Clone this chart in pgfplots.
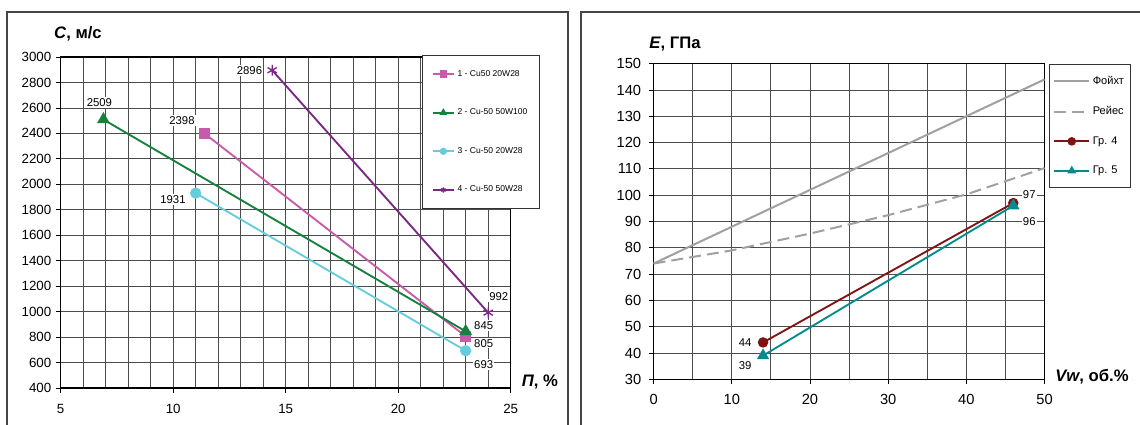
\documentclass[border=0pt]{standalone}
\usepackage{fontspec}
\setmainfont{Liberation Sans}
\usepackage{pgfplots}
\pgfplotsset{compat=1.18}
\definecolor{cA}{RGB}{200,90,170}
\definecolor{cB}{RGB}{20,130,60}
\definecolor{cC}{RGB}{102,204,221}
\definecolor{cD}{RGB}{122,40,130}
\definecolor{cR}{RGB}{128,20,20}
\definecolor{cT}{RGB}{0,140,140}
\definecolor{cG}{RGB}{160,160,160}
\definecolor{frameC}{RGB}{70,70,70}
\begin{document}
\begin{tikzpicture}
\useasboundingbox (0,0) rectangle (855pt,318.75pt);
\begin{scope}
\clip (0,0) rectangle (855pt,318.75pt);
\draw[frameC, line width=1pt] (5.25pt,-10pt) rectangle (426pt,309.75pt);
\draw[frameC, line width=1pt] (435.75pt,-10pt) rectangle (880pt,309.75pt);
\end{scope}
% ---------------- left chart ----------------
\begin{axis}[
  at={(45.5pt,27.75pt)}, anchor=south west, scale only axis,
  width=337.5pt, height=248.25pt,
  xmin=5, xmax=25, ymin=400, ymax=3000,
  xtick={5,10,15,20,25},
  minor xtick={6,7,8,9,11,12,13,14,16,17,18,19,21,22,23,24},
  ytick={400,600,...,3000},
  grid=both,
  grid style={black!70, line width=0.6pt},
  minor grid style={black!70, line width=0.6pt},
  tick pos=left, tick align=outside,
  major tick length=3.5pt, minor tick length=0pt,
  tick style={black, line width=0.6pt},
  axis line style={black, line width=0.8pt},
  ticklabel style={font=\fontsize{10}{12}\selectfont},
  xticklabel style={yshift=-5pt},
  /pgf/number format/1000 sep={},
  /pgf/number format/assume math mode=true,
  clip=false,
  legend cell align=left,
  legend style={at={(0.803,1.006)}, anchor=north west, draw=black!80, line width=0.6pt, fill=white,
    font=\fontsize{6.4}{7.5}\selectfont, row sep=19pt, inner xsep=7pt, inner ysep=9pt},
  legend image code/.code={\draw[mark repeat=2,mark phase=2,#1,mark size=2pt] plot coordinates {(0pt,0pt)(8pt,0pt)(16pt,0pt)};},
]
\addplot[cA, line width=1.4pt, mark=square*, mark size=3.5pt, mark options={solid, fill=cA}] coordinates {(11.4,2398) (23,805)};
\addlegendentry{1 - Cu50 20W28}
\addplot[cB, line width=1.4pt, mark=triangle*, mark size=4.2pt, mark options={solid, fill=cB}] coordinates {(6.9,2509) (23,845)};
\addlegendentry{2 - Cu-50 50W100}
\addplot[cC, line width=1.4pt, mark=*, mark size=3.5pt, mark options={solid, fill=cC}] coordinates {(11,1931) (23,693)};
\addlegendentry{3 - Cu-50 20W28}
\addplot[cD, line width=1.4pt, mark=asterisk, mark size=4pt, mark options={solid, line width=1pt}] coordinates {(14.4,2896) (24,992)};
\addlegendentry{4 - Cu-50 50W28}
\tikzset{dl/.style={fill=white, inner sep=1pt, font=\fontsize{8.5}{10}\selectfont}}
\node[dl, xshift=-3pt, yshift=12.75pt] at (axis cs:6.9,2509) {2509};
\node[dl, xshift=-17pt, yshift=9.75pt] at (axis cs:11.4,2398) {2398};
\node[dl, xshift=-17pt, yshift=-5pt] at (axis cs:11,1931) {1931};
\node[dl, xshift=-17pt] at (axis cs:14.4,2896) {2896};
\node[dl, xshift=8pt, yshift=12pt] at (axis cs:24,992) {992};
\node[dl, xshift=13.5pt, yshift=4.5pt] at (axis cs:23,845) {845};
\node[dl, xshift=13.5pt, yshift=-5pt] at (axis cs:23,805) {805};
\node[dl, xshift=13.5pt, yshift=-10.5pt] at (axis cs:23,693) {693};
\end{axis}
% ---------------- right chart ----------------
\begin{axis}[
  at={(490.2pt,34.3pt)}, anchor=south west, scale only axis,
  width=293.2pt, height=236.7pt,
  xmin=0, xmax=50, ymin=30, ymax=150,
  xtick={0,10,...,50},
  minor xtick={5,15,25,35,45},
  ytick={30,40,...,150},
  grid=both,
  grid style={black!70, line width=0.6pt},
  minor grid style={black!70, line width=0.6pt},
  tick pos=left, tick align=outside,
  major tick length=3.5pt, minor tick length=0pt,
  tick style={black, line width=0.6pt},
  axis line style={black, line width=0.8pt},
  ticklabel style={font=\fontsize{11}{13}\selectfont},
  xticklabel style={yshift=-4.3pt},
  yticklabel style={xshift=-2.3pt},
  /pgf/number format/assume math mode=true,
  clip=false,
  legend cell align=left,
  legend style={at={(1.0115,0.999)}, anchor=north west, draw=black!80, line width=0.6pt, fill=white,
    font=\fontsize{8.3}{10}\selectfont, row sep=10.9pt, inner xsep=3pt, inner ysep=7pt},
  legend image code/.code={\draw[mark repeat=2,mark phase=2,#1,mark size=2.5pt] plot coordinates {(0pt,0pt)(13pt,0pt)(26pt,0pt)};},
]
\addplot[cG, line width=1.5pt] coordinates {(0,74) (50,144)};
\addlegendentry{Фойхт}
\addplot[cG, line width=1.5pt, dash pattern=on 9pt off 4.5pt] coordinates {(0,74) (10,79) (20,85.4) (30,92.4) (40,100.3) (50,110.3)};
\addlegendentry{Рейес}
\addplot[cR, line width=1.4pt, mark=*, mark size=3.2pt, mark options={solid, fill=cR}] coordinates {(14,44) (46,97)};
\addlegendentry{Гр. 4}
\addplot[cT, line width=1.4pt, mark=triangle*, mark size=4pt, mark options={solid, fill=cT}] coordinates {(14,39) (46,96)};
\addlegendentry{Гр. 5}
\tikzset{dl/.style={fill=white, inner sep=1pt, font=\fontsize{8.5}{10}\selectfont}}
\node[dl, xshift=12pt, yshift=6pt] at (axis cs:46,97) {97};
\node[dl, xshift=12pt, yshift=-12pt] at (axis cs:46,96) {96};
\node[dl, xshift=-13.5pt] at (axis cs:14,44) {44};
\node[dl, xshift=-13.5pt, yshift=-7.5pt] at (axis cs:14,39) {39};
\end{axis}
% axis titles
\node at (58.5pt,293.25pt) {\fontsize{12.5}{14}\selectfont\bfseries\itshape C\upshape, м/с};
\node at (405pt,32.25pt) {\fontsize{12.5}{14}\selectfont\bfseries\itshape П\upshape, \%};
\node at (506.25pt,285.75pt) {\fontsize{12.5}{14}\selectfont\bfseries\itshape E\upshape, ГПа};
\node at (819pt,36pt) {\fontsize{12.5}{14}\selectfont\bfseries\itshape Vw\upshape, об.\%};
\end{tikzpicture}
\end{document}
